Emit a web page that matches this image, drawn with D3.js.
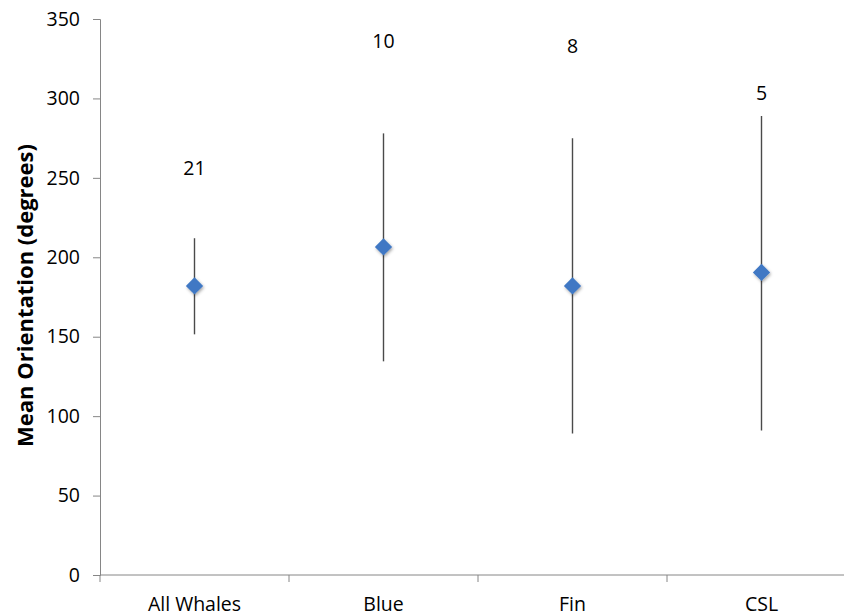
<!DOCTYPE html>
<html>
<head>
<meta charset="utf-8">
<script src="https://cdn.jsdelivr.net/npm/d3@7"></script>
<style>
  html, body { margin: 0; padding: 0; background: #fff; }
  svg text { font-family: "Open Sans", Lato, sans-serif; fill: #000; }
</style>
</head>
<body>
<svg id="chart" width="844" height="616"></svg>
<script>
// Whale groups and their mean orientation with the range shown by each whisker
const categories = ["All Whales", "Blue", "Fin", "CSL"];
const meanOrientation = [182, 206.5, 182, 190.5];
const whiskerLow = [151.5, 134.5, 89, 91];
const whiskerHigh = [212, 278, 275, 289];
// Sample counts printed above each group, and the height they sit at
const sampleCounts = ["21", "10", "8", "5"];
const countLabelY = [256, 336, 333, 303.5];
const yTicks = [0, 50, 100, 150, 200, 250, 300, 350];

const svg = d3.select("#chart");
const margin = { left: 100, top: 19, bottom: 41 };
const bandWidth = 189;
const plotBottom = 616 - margin.bottom;
const fontSize = 19.5;

const x = d3.scaleBand()
  .domain(categories)
  .range([margin.left, margin.left + bandWidth * categories.length])
  .padding(0);

const y = d3.scaleLinear()
  .domain([0, 350])
  .range([plotBottom, margin.top]);

const axisColor = "#868686";

// Y axis
const yAxis = svg.append("g")
  .attr("transform", `translate(${margin.left},0)`)
  .call(d3.axisLeft(y).tickValues(yTicks).tickSize(7).tickPadding(13).tickFormat(d3.format("d")));
yAxis.select(".domain").attr("stroke", axisColor).attr("stroke-width", 1);
yAxis.selectAll(".tick line").attr("stroke", axisColor);
yAxis.selectAll(".tick text").attr("font-size", fontSize).attr("fill", "#000");

// X axis with ticks on the category boundaries
const xAxisG = svg.append("g")
  .attr("transform", `translate(0,${plotBottom})`);
xAxisG.append("line")
  .attr("x1", margin.left).attr("x2", x.range()[1])
  .attr("stroke", axisColor).attr("stroke-width", 1);
const boundaries = categories.map(c => x(c)).concat([x.range()[1]]);
xAxisG.selectAll("line.tick")
  .data(boundaries)
  .join("line")
  .attr("class", "tick")
  .attr("x1", d => d).attr("x2", d => d)
  .attr("y1", 0).attr("y2", 7)
  .attr("stroke", axisColor);
xAxisG.selectAll("text")
  .data(categories)
  .join("text")
  .attr("x", d => x(d) + x.bandwidth() / 2)
  .attr("y", 36)
  .attr("text-anchor", "middle")
  .attr("font-size", fontSize)
  .text(d => d);

// Y axis title
svg.append("text")
  .attr("transform", "translate(33,295.5) rotate(-90)")
  .attr("text-anchor", "middle")
  .attr("font-size", 22)
  .attr("font-weight", "bold")
  .text("Mean Orientation (degrees)");

// Marker shadow
const defs = svg.append("defs");
const f = defs.append("filter").attr("id", "soft").attr("x", "-50%").attr("y", "-50%").attr("width", "200%").attr("height", "200%");
f.append("feDropShadow").attr("dx", 1).attr("dy", 1.5).attr("stdDeviation", 1.6)
  .attr("flood-color", "#000").attr("flood-opacity", 0.35);

const cx = d => x(d) + x.bandwidth() / 2;

// Whiskers
svg.append("g").selectAll("line")
  .data(categories)
  .join("line")
  .attr("x1", cx).attr("x2", cx)
  .attr("y1", (d, i) => y(whiskerLow[i]))
  .attr("y2", (d, i) => y(whiskerHigh[i]))
  .attr("stroke", "#4a4a4a")
  .attr("stroke-width", 1.4);

// Diamond markers for the means
const diamond = d3.symbol().type(d3.symbolDiamond2).size(190);
svg.append("g").selectAll("path")
  .data(categories)
  .join("path")
  .attr("d", diamond)
  .attr("transform", (d, i) => `translate(${cx(d)},${y(meanOrientation[i])})`)
  .attr("fill", "#3f78c4")
  .attr("filter", "url(#soft)");

// Sample count labels
svg.append("g").selectAll("text")
  .data(categories)
  .join("text")
  .attr("x", cx)
  .attr("y", (d, i) => y(countLabelY[i]))
  .attr("dy", "0.35em")
  .attr("text-anchor", "middle")
  .attr("font-size", fontSize)
  .text((d, i) => sampleCounts[i]);
</script>
</body>
</html>
